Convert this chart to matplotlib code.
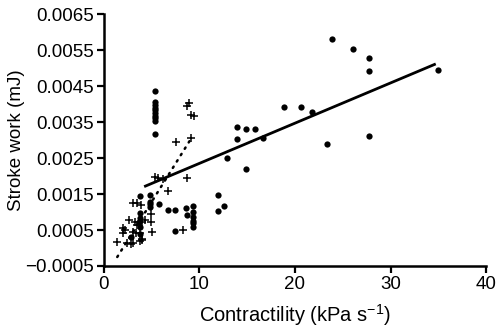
import numpy as np
from matplotlib import pyplot as plt

# group 1: filled circles (x = contractility, y = stroke work)
dot_x = [23.9, 26.05, 27.8, 27.8, 35.0, 18.9, 20.6, 21.8, 13.9, 14.9,
         15.8, 13.9, 16.7, 23.3, 27.8, 12.9, 14.9, 11.9, 11.9, 12.6,
         5.3, 5.3, 5.3, 5.3, 5.3, 5.3, 5.3, 5.3, 5.3, 5.3,
         3.8, 4.8, 4.8, 4.8, 4.8, 5.8, 3.8, 3.75, 3.65, 3.8,
         2.8, 3.8, 6.7, 7.4, 7.4, 8.6, 9.3, 8.7, 9.3, 9.3,
         9.3, 9.3, 9.3]
dot_y = [0.00581, 0.00554, 0.00528, 0.00492, 0.00495, 0.00391, 0.00392, 0.00377, 0.00336, 0.00331,
         0.00331, 0.00303, 0.00307, 0.00290, 0.00311, 0.00250, 0.00220, 0.00147, 0.00104, 0.00117,
         0.00437, 0.00405, 0.00397, 0.00390, 0.00383, 0.00375, 0.00367, 0.00360, 0.00353, 0.00316,
         0.00145, 0.00147, 0.00129, 0.00121, 0.00115, 0.00122, 0.00096, 0.00083, 0.00073, 0.00059,
         0.00031, 0.00038, 0.00106, 0.00106, 0.00046, 0.00110, 0.00117, 0.00092, 0.00101, 0.00087,
         0.00076, 0.00069, 0.00059]

# group 2: plus markers
plus_x = [8.9, 8.7, 9.1, 9.4, 7.6, 9.1, 8.7, 5.4, 5.7, 6.2,
          6.7, 3.1, 3.5, 3.9, 4.9, 2.6, 3.3, 4.0, 4.35, 3.5,
          4.9, 2.25, 2.05, 2.0, 5.0, 3.1, 3.4, 3.8, 1.35, 2.4,
          2.8, 3.1, 4.0, 3.8, 8.3, 4.0]
plus_y = [0.00404, 0.00395, 0.00369, 0.00367, 0.00295, 0.00305, 0.00194, 0.00198, 0.00194, 0.00192,
          0.00159, 0.00124, 0.00124, 0.00119, 0.00094, 0.00078, 0.00071, 0.00073, 0.00078, 0.00064,
          0.00073, 0.00050, 0.00041, 0.00055, 0.00044, 0.00045, 0.00041, 0.00041, 0.00018, 0.00013,
          0.00011, 0.00013, 0.00025, 0.00020, 0.00050, 0.00022]

# regression lines (end points)
fit_dot_x = [4.35, 34.6]
fit_dot_y = [0.00172, 0.00510]
fit_plus_x = [1.4, 9.2]
fit_plus_y = [-0.00025, 0.00307]

xticks = [0, 10, 20, 30, 40]
yticks = [-0.0005, 0.0005, 0.0015, 0.0025, 0.0035, 0.0045, 0.0055, 0.0065]
ytick_labels = ['\u22120.0005', '0.0005', '0.0015', '0.0025', '0.0035',
                '0.0045', '0.0055', '0.0065']

plt.rcParams['font.family'] = ['Liberation Sans', 'DejaVu Sans']
plt.rcParams['mathtext.default'] = 'regular'

fig = plt.figure(figsize=(4.97, 3.35), dpi=100)
ax = fig.add_axes([0.209, 0.206, 0.769, 0.752])

ax.plot(dot_x, dot_y, 'o', color='black', markersize=4.5, markeredgewidth=0, clip_on=False)
ax.plot(plus_x, plus_y, '+', color='black', markersize=5.5, markeredgewidth=1.1, clip_on=False)
ax.plot(fit_dot_x, fit_dot_y, '-', color='black', linewidth=2)
ax.plot(fit_plus_x, fit_plus_y, color='black', linewidth=1.8, linestyle=(0, (0.6, 2.4)),
        dash_capstyle='round')

ax.set_xlim(0, 40)
ax.set_ylim(-0.0005, 0.0065)
ax.set_xticks(xticks)
ax.set_yticks(yticks)
ax.set_yticklabels(ytick_labels)

for s in ['top', 'right']:
    ax.spines[s].set_visible(False)
for s in ['left', 'bottom']:
    ax.spines[s].set_linewidth(1.8)
ax.tick_params(direction='out', length=5, width=1.6, labelsize=13.5, pad=2)

ax.set_xlabel('Contractility (kPa s$^{\u22121}$)', fontsize=14.5, labelpad=7)
ax.set_ylabel('Stroke work (mJ)', fontsize=13.5, labelpad=0)
ax.yaxis.set_label_coords(-0.207, 0.5)

plt.savefig('out.png', dpi=100)
